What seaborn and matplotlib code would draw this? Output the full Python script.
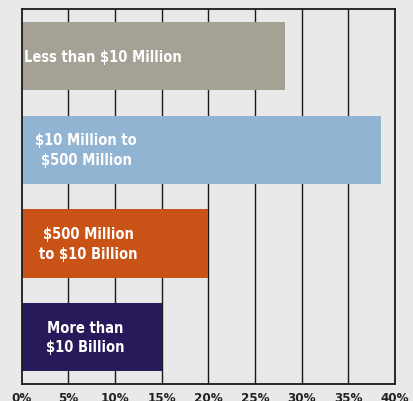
import pandas as pd
import seaborn as sns
import matplotlib.pyplot as plt

# company size buckets and share of respondents (%)
categories = ['Less than $10 Million', '$10 Million to\n$500 Million',
              '$500 Million\nto $10 Billion', 'More than\n$10 Billion']
shares = [28.2, 38.5, 20.0, 15.0]
bar_colors = ['#a5a195', '#92b4d3', '#c95217', '#28195a']
label_x = [8.7, 6.9, 7.2, 6.8]
ticks = [0, 5, 10, 15, 20, 25, 30, 35, 40]
tick_labels = ['0%', '5%', '10%', '15%', '20%', '25%', '30%', '35%', '40%']

df = pd.DataFrame({'category': categories, 'share': shares})

sns.set_style('white')
plt.rcParams['font.family'] = ['DejaVu Sans']

bg = '#e9e9e9'
fig = plt.figure(figsize=(4.14, 4.02), dpi=100, facecolor=bg)
ax = fig.add_axes([0.052, 0.043, 0.902, 0.931])
ax.set_facecolor(bg)

sns.barplot(ax=ax, data=df, x='share', y='category', hue='category',
            palette=bar_colors, orient='h', width=0.73, legend=False,
            saturation=1, linewidth=0, zorder=3)

# vertical grid lines
for t in ticks[1:-1]:
    ax.axvline(t, color='#1a1a1a', lw=1.0, zorder=1)

for i, (txt, lx) in enumerate(zip(categories, label_x)):
    ax.text(lx, i, txt, color='white', fontsize=10.5, fontweight='bold',
            fontstretch='condensed', ha='center', va='center',
            multialignment='center', linespacing=1.4, zorder=4)

ax.set_xlim(0, 40)
ax.set_ylim(3.5, -0.5)
ax.set_xticks(ticks)
ax.set_xticklabels(tick_labels, fontsize=9.5, fontweight='bold',
                   fontstretch='condensed', color='#222222')
ax.tick_params(axis='x', length=0, pad=5)
ax.set_yticks([])
ax.set_xlabel('')
ax.set_ylabel('')
for side in ['left', 'right', 'top', 'bottom']:
    ax.spines[side].set_visible(True)
    ax.spines[side].set_color('#1a1a1a')
    ax.spines[side].set_linewidth(1.3)
    ax.spines[side].set_zorder(5)

fig.savefig('out.png', dpi=100, facecolor=bg)
